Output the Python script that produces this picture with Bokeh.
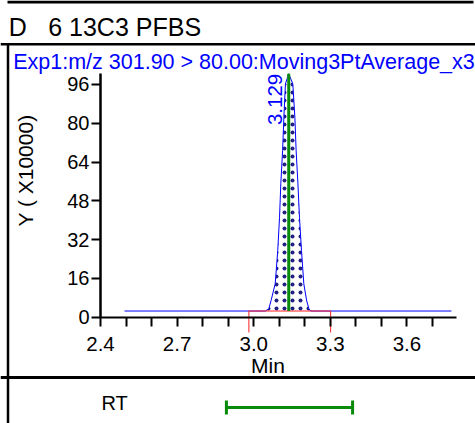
import math
from bokeh.plotting import figure
from bokeh.models import (Range1d, FixedTicker, Label, Whisker, TeeHead,
                          ColumnDataSource)
from bokeh.embed import file_html
from bokeh.resources import INLINE

# ---------------- data ----------------
sample_prefix = "D"
sample_name = "6 13C3 PFBS"
trace_name = "Exp1:m/z 301.90 > 80.00:Moving3PtAverage_x3"
y_axis_title = "Y ( X10000)"
x_axis_title = "Min"
row_label = "RT"
rt_text = "3.129"

time_min = [2.494, 3.046, 3.059, 3.068, 3.084, 3.094, 3.101, 3.106, 3.113,
            3.118, 3.124, 3.137, 3.153, 3.161, 3.166, 3.173, 3.179, 3.187,
            3.196, 3.207, 3.216, 3.223, 3.774]
intensity = [2.55, 2.55, 3.5, 6.9, 13.8, 27.5, 41.2, 55.0, 68.7,
             82.5, 96.2, 100.4, 96.2, 82.5, 68.7, 55.0, 41.2, 27.5,
             13.8, 6.9, 3.5, 2.55, 2.55]
baseline_level = 2.55
integration_start = 2.981
integration_end = 3.301
apex_time = 3.137
apex_height = 100.4
rt_window = [2.893, 3.387]

y_ticks = [0, 16, 32, 48, 64, 80, 96]
x_major_ticks = [2.4, 2.7, 3.0, 3.3, 3.6]
x_minor_ticks = [2.5, 2.6, 2.8, 2.9, 3.1, 3.2, 3.4, 3.5, 3.7]
x_axis_span = [2.4, 3.794]
y_axis_span = [0, 100.5]

# ---------------- geometry (pixel layout) ----------------
W, H = 475, 423
X0_PX, PX_PER_MIN = 100.0, 255.4     # x = 2.4 at pixel 100
Y0_PX, PX_PER_UNIT = 316.7, 2.425    # y = 0 at pixel 316.7


def X(px):
    return x_axis_span[0] + (px - X0_PX) / PX_PER_MIN


def Y(py):
    return (Y0_PX - py) / PX_PER_UNIT


FONT = "Liberation Sans"
BLUE = "#0000ff"
GREEN = "#0a8a0a"
RED = "#ff2020"

p = figure(width=W, height=H, output_backend="svg", toolbar_location=None,
           x_range=Range1d(X(0), X(W)), y_range=Range1d(Y(H), Y(0)),
           min_border=0)
p.outline_line_color = None
p.background_fill_color = "white"
p.border_fill_color = "white"
p.xgrid.visible = False
p.ygrid.visible = False

# axes
xa = p.xaxis[0]
xa.fixed_location = 0
xa.bounds = tuple(x_axis_span)
xa.ticker = FixedTicker(ticks=x_major_ticks, minor_ticks=x_minor_ticks)
xa.major_label_overrides = {t: f"{t:.1f}" for t in x_major_ticks}
xa.axis_line_width = 2
xa.axis_line_color = "black"
xa.major_tick_out = 9
xa.major_tick_in = 0
xa.minor_tick_out = 9
xa.minor_tick_in = 0
xa.major_tick_line_width = 2
xa.minor_tick_line_width = 2
xa.minor_tick_line_color = "black"
xa.major_label_standoff = 11
xa.major_label_text_font = FONT
xa.major_label_text_font_size = "20.5px"
xa.major_label_text_color = "black"

ya = p.yaxis[0]
ya.fixed_location = x_axis_span[0]
ya.bounds = tuple(y_axis_span)
ya.ticker = FixedTicker(ticks=y_ticks)
ya.axis_line_width = 2.5
ya.axis_line_color = "black"
ya.major_tick_out = 9
ya.major_tick_in = 0
ya.major_tick_line_width = 2
ya.minor_tick_line_color = None
ya.major_label_standoff = 2
ya.major_label_text_font = FONT
ya.major_label_text_font_size = "20px"
ya.major_label_text_color = "black"

# frame lines of the report cell
p.segment(x0=[X(7), X(0), X(0)], y0=[Y(1.5), Y(43.7), Y(377)],
          x1=[X(473), X(W), X(W)], y1=[Y(1.5), Y(43.7), Y(377)],
          line_color="black", line_width=[3, 2.5, 3])
p.segment(x0=[X(7.5)], y0=[Y(43)], x1=[X(7.5)], y1=[Y(H)],
          line_color="black", line_width=2.5)

# peak fill (hatched) between baseline and trace inside integration window
pk = [(t, v) for t, v in zip(time_min, intensity)
      if integration_start <= t <= integration_end]
p.varea(x=[t for t, _ in pk], y1=[baseline_level] * len(pk),
        y2=[v for _, v in pk], fill_alpha=0, hatch_pattern="dot",
        hatch_color="#202080", hatch_scale=8, hatch_weight=1.2)

# trace
p.line(time_min, intensity, line_color=BLUE, line_width=1)

# integration baseline and limits
p.segment(x0=[integration_start], y0=[baseline_level],
          x1=[integration_end], y1=[baseline_level],
          line_color=RED, line_width=1)
p.segment(x0=[integration_start, integration_end],
          y0=[baseline_level] * 2,
          x1=[integration_start, integration_end],
          y1=[Y(332)] * 2, line_color=RED, line_width=1)

# apex marker
p.segment(x0=[apex_time], y0=[baseline_level], x1=[apex_time],
          y1=[apex_height], line_color=GREEN, line_width=3)

# RT window bar
rt_src = ColumnDataSource(dict(base=[Y(407)], lower=[rt_window[0]],
                               upper=[rt_window[1]]))
p.add_layout(Whisker(source=rt_src, base="base", lower="lower", upper="upper",
                     dimension="width", line_color=GREEN, line_width=3,
                     upper_head=TeeHead(size=14, line_color=GREEN, line_width=3),
                     lower_head=TeeHead(size=14, line_color=GREEN, line_width=3)))

# texts (y positions are the centres of the capital letters)
def lab(**kw):
    kw.setdefault("text_font", FONT)
    kw.setdefault("text_color", "black")
    kw.setdefault("text_baseline", "middle")
    p.add_layout(Label(**kw))

lab(x=X(8.3), y=Y(26.5), text=sample_prefix, text_font_size="25px",
    text_align="left")
lab(x=X(47.7), y=Y(26.5), text=sample_name, text_font_size="25px",
    text_align="left")
lab(x=X(12.7), y=Y(61.3), text=trace_name, text_font_size="21.5px",
    text_color=BLUE, text_align="left")
lab(x=X(25), y=Y(170), text=y_axis_title, text_font_size="21px",
    angle=math.pi / 2, text_align="center")
lab(x=X(267.5), y=Y(365.3), text=x_axis_title, text_font_size="21px",
    text_align="center")
lab(x=X(101), y=Y(402.2), text=row_label, text_font_size="20px",
    text_align="left")
lab(x=apex_time, y=apex_height, x_offset=-13.5, text=rt_text,
    text_font_size="20.5px", text_color=BLUE, angle=math.pi / 2,
    text_align="right")

open("out.html", "w").write(file_html(p, INLINE))
